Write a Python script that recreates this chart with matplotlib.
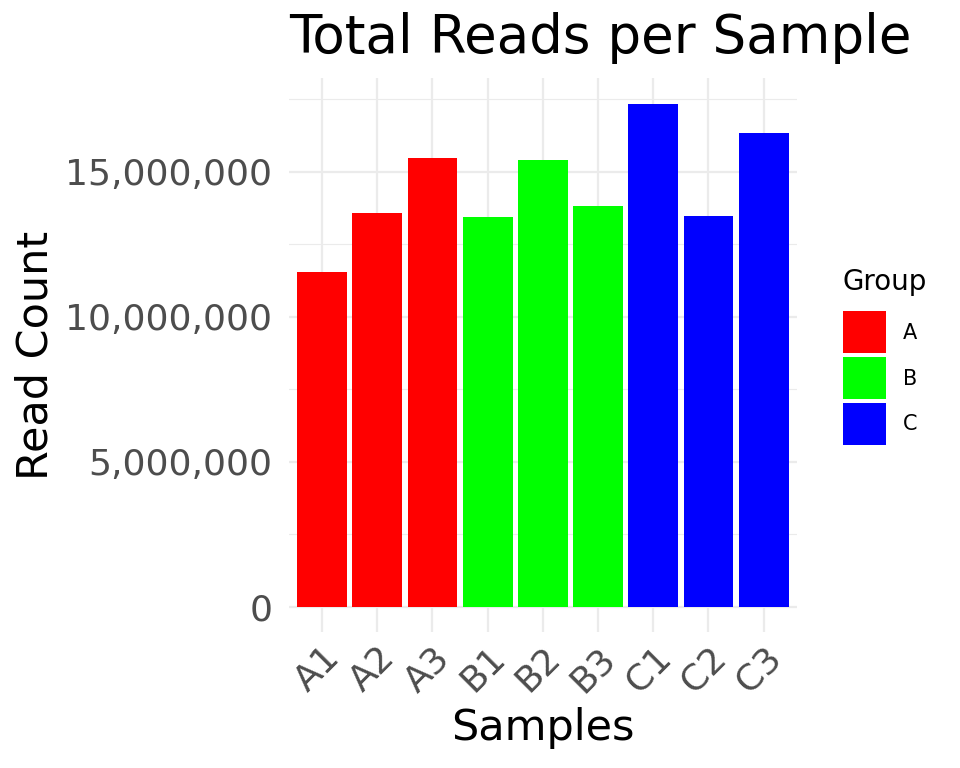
#! /usr/bin/env python3

"""
Bar chart of total reads per sample, coloured by group.
"""
import matplotlib
matplotlib.use('Agg')
import matplotlib.pyplot as plt
from matplotlib.patches import Patch
from matplotlib.ticker import FuncFormatter, MultipleLocator

samples = ['A1', 'A2', 'A3', 'B1', 'B2', 'B3', 'C1', 'C2', 'C3']
groups = ['A', 'A', 'A', 'B', 'B', 'B', 'C', 'C', 'C']
reads = [11560000, 13600000, 15490000, 13460000, 15420000,
         13840000, 17360000, 13490000, 16360000]
group_names = ['A', 'B', 'C']
group_colors = {'A': '#FF0000', 'B': '#00FF00', 'C': '#0000FF'}

GRID = '#EBEBEB'
TICK = '#4D4D4D'


def plot_it():
    fig = plt.figure(figsize=(9.6, 7.68), dpi=100)
    ax = fig.add_axes([0.301, 0.177, 0.529, 0.721])

    x = list(range(1, len(samples) + 1))
    ax.bar(x, reads, width=0.9, color=[group_colors[g] for g in groups],
           zorder=3)

    ax.set_xlim(0.4, len(samples) + 0.6)
    top = max(reads)
    ax.set_ylim(-0.05 * top, 1.05 * top)

    ax.yaxis.set_major_locator(MultipleLocator(5000000))
    ax.yaxis.set_minor_locator(MultipleLocator(2500000))
    ax.yaxis.set_major_formatter(FuncFormatter(lambda v, p: f'{int(v):,}'))
    ax.set_xticks(x)
    ax.set_xticklabels(samples, rotation=45, ha='right', va='top',
                       rotation_mode='anchor')

    ax.grid(which='major', color=GRID, linewidth=1.6, zorder=0)
    ax.grid(which='minor', axis='y', color=GRID, linewidth=0.8, zorder=0)
    for s in ax.spines.values():
        s.set_visible(False)
    ax.tick_params(which='both', length=0)
    ax.tick_params(axis='y', labelsize=26, labelcolor=TICK, pad=12)
    ax.tick_params(axis='x', labelsize=26, labelcolor=TICK, pad=6)

    ax.set_xlabel('Samples', fontsize=31, labelpad=6)
    ax.set_ylabel('Read Count', fontsize=31, labelpad=6)
    ax.set_title('Total Reads per Sample', fontsize=38.2, loc='left', pad=18)

    handles = [Patch(facecolor=group_colors[g], edgecolor='none')
               for g in group_names]
    leg = fig.legend(handles, group_names, title='Group',
                     loc='upper left', bbox_to_anchor=(0.878, 0.651),
                     frameon=False, fontsize=15, title_fontsize=20,
                     handlelength=2.07, handleheight=2.725, labelspacing=0.19,
                     handletextpad=0.8, borderaxespad=0, borderpad=0)
    leg._legend_box.align = 'left'
    leg._legend_box.sep = 11

    fig.savefig('out.png', dpi=100)


if __name__ == '__main__':
    plot_it()
